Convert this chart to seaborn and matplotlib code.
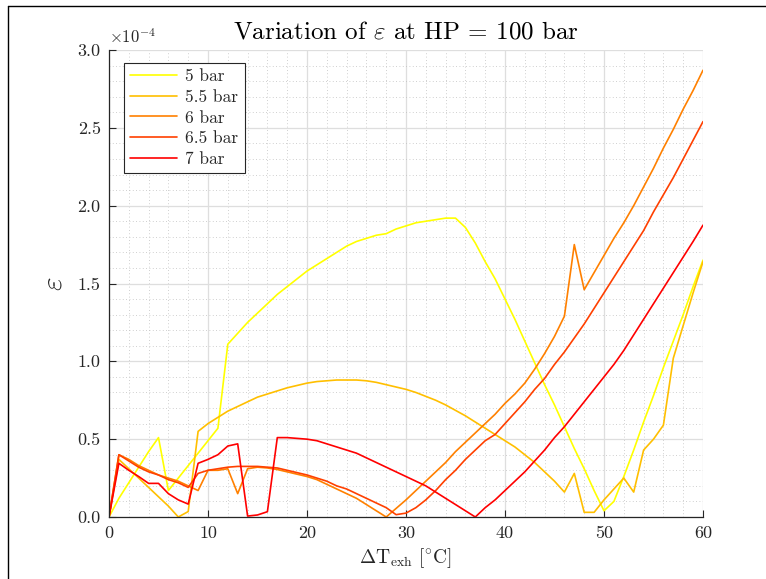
import numpy as np
import pandas as pd
import matplotlib
matplotlib.use("Agg")
import matplotlib.pyplot as plt
from matplotlib.ticker import MultipleLocator, FormatStrFormatter
from matplotlib.lines import Line2D
import seaborn as sns

# Exhaust temperature difference [°C]
dT = list(range(0, 61))

# Efficiency loss epsilon (in units of 1e-4) for each low pressure level
eps_5bar = [0.00, 0.12, 0.22, 0.32, 0.42, 0.51, 0.17, 0.25, 0.33, 0.41, 0.49, 0.57,
            1.11, 1.18, 1.25, 1.31, 1.37, 1.43, 1.48, 1.53, 1.58, 1.62, 1.66, 1.70,
            1.74, 1.77, 1.79, 1.81, 1.82, 1.85, 1.87, 1.89, 1.90, 1.91, 1.92, 1.92,
            1.86, 1.76, 1.64, 1.53, 1.40, 1.27, 1.13, 0.99, 0.85, 0.72, 0.58, 0.44,
            0.31, 0.17, 0.04, 0.10, 0.26, 0.43, 0.61, 0.78, 0.96, 1.13, 1.30, 1.48,
            1.65]
eps_5p5bar = [0.00, 0.37, 0.31, 0.25, 0.19, 0.13, 0.07, 0.00, 0.035, 0.55, 0.60, 0.64,
              0.68, 0.71, 0.74, 0.77, 0.79, 0.81, 0.83, 0.845, 0.86, 0.87, 0.875, 0.88,
              0.88, 0.88, 0.875, 0.865, 0.85, 0.835, 0.82, 0.80, 0.775, 0.75, 0.72, 0.685,
              0.65, 0.61, 0.57, 0.53, 0.49, 0.45, 0.40, 0.35, 0.29, 0.23, 0.16, 0.28,
              0.03, 0.03, 0.11, 0.18, 0.25, 0.16, 0.43, 0.50, 0.59, 1.02, 1.23, 1.44,
              1.64]
eps_6bar = [0.00, 0.40, 0.37, 0.33, 0.30, 0.27, 0.25, 0.23, 0.20, 0.17, 0.30, 0.30,
            0.31, 0.15, 0.31, 0.32, 0.315, 0.305, 0.29, 0.275, 0.26, 0.24, 0.21, 0.18,
            0.15, 0.12, 0.08, 0.04, 0.00, 0.055, 0.11, 0.17, 0.23, 0.29, 0.35, 0.42,
            0.48, 0.54, 0.60, 0.66, 0.73, 0.79, 0.86, 0.95, 1.05, 1.16, 1.29, 1.75,
            1.46, 1.57, 1.68, 1.79, 1.89, 2.00, 2.12, 2.24, 2.37, 2.49, 2.62, 2.74,
            2.87]
eps_6p5bar = [0.00, 0.40, 0.36, 0.32, 0.29, 0.27, 0.24, 0.22, 0.19, 0.28, 0.30, 0.31,
              0.32, 0.325, 0.325, 0.325, 0.32, 0.315, 0.30, 0.285, 0.27, 0.25, 0.23, 0.20,
              0.18, 0.15, 0.12, 0.09, 0.06, 0.015, 0.025, 0.06, 0.11, 0.17, 0.24, 0.30,
              0.37, 0.43, 0.49, 0.53, 0.60, 0.67, 0.74, 0.82, 0.89, 0.98, 1.06, 1.15,
              1.24, 1.34, 1.44, 1.54, 1.64, 1.74, 1.84, 1.96, 2.07, 2.18, 2.30, 2.42,
              2.54]
eps_7bar = [0.00, 0.345, 0.30, 0.26, 0.216, 0.216, 0.15, 0.11, 0.083, 0.345, 0.37, 0.40,
            0.456, 0.47, 0.006, 0.013, 0.034, 0.51, 0.51, 0.505, 0.50, 0.49, 0.47, 0.45,
            0.43, 0.41, 0.38, 0.35, 0.32, 0.29, 0.26, 0.23, 0.20, 0.16, 0.12, 0.08,
            0.04, 0.00, 0.06, 0.11, 0.17, 0.23, 0.29, 0.36, 0.43, 0.51, 0.58, 0.66,
            0.74, 0.82, 0.90, 0.98, 1.07, 1.17, 1.27, 1.37, 1.47, 1.57, 1.67, 1.77,
            1.875]

labels = ["5 bar", "5.5 bar", "6 bar", "6.5 bar", "7 bar"]
series = [eps_5bar, eps_5p5bar, eps_6bar, eps_6p5bar, eps_7bar]
# autumn colormap, yellow to red
colors = ["#ffff00", "#ffbf00", "#ff8000", "#ff4000", "#ff0000"]

df = pd.concat(
    [pd.DataFrame({"dT": dT, "eps": s, "LP": lab}) for s, lab in zip(series, labels)],
    ignore_index=True,
)

sns.set_theme(style="white")
plt.rcParams["font.family"] = ["cmr10", "DejaVu Serif"]
plt.rcParams["mathtext.fontset"] = "cm"
plt.rcParams["axes.unicode_minus"] = False

fig = plt.figure(figsize=(7.66, 5.79), dpi=100)
ax = fig.add_axes([109 / 766, 62 / 579, 594 / 766, 467 / 579])

sns.lineplot(data=df, x="dT", y="eps", hue="LP", hue_order=labels,
             palette=colors, estimator=None, sort=False, linewidth=1.2,
             ax=ax, legend=False)

ax.set_xlim(0, 60)
ax.set_ylim(0, 3.0)
ax.xaxis.set_major_locator(MultipleLocator(10))
ax.xaxis.set_minor_locator(MultipleLocator(2))
ax.yaxis.set_major_locator(MultipleLocator(0.5))
ax.yaxis.set_minor_locator(MultipleLocator(0.1))
ax.yaxis.set_major_formatter(FormatStrFormatter("%.1f"))

ax.grid(which="major", color="#dedede", linewidth=0.9, linestyle="-")
ax.grid(which="minor", color="#c0c0c0", linewidth=0.6, linestyle=(0, (1, 3)))
ax.set_axisbelow(True)

for side in ["top", "right"]:
    ax.spines[side].set_visible(False)
for side in ["left", "bottom"]:
    ax.spines[side].set_color("#262626")
    ax.spines[side].set_linewidth(0.9)

ax.tick_params(which="major", direction="in", length=5, width=0.8,
               colors="#262626", labelsize=13, pad=6,
               bottom=True, left=True)
ax.tick_params(which="minor", length=0)
for t in ax.get_xticklabels() + ax.get_yticklabels():
    t.set_color("#262626")

ax.set_xlabel(r"$\Delta\mathrm{T}_{\mathrm{exh}}$ [$^{\circ}$C]", fontsize=14,
              color="#262626", labelpad=4)
ax.set_ylabel(r"$\varepsilon$", fontsize=21, color="#262626", labelpad=7)
ax.set_title(r"Variation of $\varepsilon$ at HP = 100 bar", fontsize=18,
             color="black", pad=8)
ax.text(0.0, 1.008, r"$\times10^{-4}$", transform=ax.transAxes, fontsize=12,
        color="#262626", ha="left", va="bottom")

handles = [Line2D([0], [0], color=c, linewidth=1.2) for c in colors]
leg = ax.legend(handles, labels, loc="upper left", bbox_to_anchor=(0.025, 0.972),
                fontsize=12.5, frameon=True, fancybox=False, framealpha=1,
                edgecolor="#262626", handlelength=2.7, handletextpad=0.5,
                labelspacing=0.3, borderpad=0.35, borderaxespad=0.0)
leg.get_frame().set_linewidth(0.8)

# outer frame lines along the top and left edge of the canvas
fig.add_artist(Line2D([8 / 766, 8 / 766], [0, 1 - 6 / 579], color="black",
                      linewidth=1.0, transform=fig.transFigure))
fig.add_artist(Line2D([8 / 766, 1], [1 - 6 / 579, 1 - 6 / 579], color="black",
                      linewidth=1.0, transform=fig.transFigure))

fig.savefig("out.png", dpi=100, facecolor="white")
